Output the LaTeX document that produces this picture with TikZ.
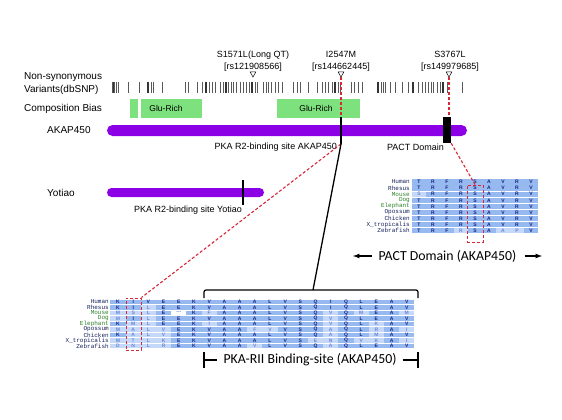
\documentclass[tikz,border=0pt]{standalone}
\usepackage{fontspec}
\setmainfont{Liberation Sans}
\setsansfont{Liberation Sans}
\setmonofont{Liberation Mono}
\newfontfamily\capfont{Carlito}
\usepackage{tikz}

\definecolor{barpurple}{RGB}{140,0,230}
\definecolor{biasgreen}{RGB}{125,225,125}
\definecolor{snpred}{RGB}{215,40,55}
\definecolor{cellblue}{RGB}{150,185,240}
\definecolor{cellpale}{RGB}{198,216,248}
\definecolor{resnavy}{RGB}{25,35,130}
\definecolor{respale}{RGB}{105,135,215}
\definecolor{spgreen}{RGB}{40,130,40}
\definecolor{spnavy}{RGB}{20,30,90}

% one residue of an alignment: letter, x, y, width, height, name
% (lower case = not conserved, . = gap)
\def\resgap{.}
\newcommand\rescell[6]{%
   \def\reslow{#1}\uppercase{\def\resup{#1}}%
   \ifx\reslow\resgap
      \fill[white] (#2-#4/2,#3-#5/2) rectangle ++(#4,#5);
      \node[resfont, text=respale] (#6) at (#2,#3) {-{}-{}-};
   \else\ifx\reslow\resup
      \fill[cellblue] (#2-#4/2,#3-#5/2) rectangle ++(#4,#5);
      \node[resfont, text=resnavy] (#6) at (#2,#3) {\resup};
   \else
      \fill[cellpale] (#2-#4/2,#3-#5/2) rectangle ++(#4,#5);
      \node[resfont, text=respale] (#6) at (#2,#3) {\resup};
   \fi\fi}

\begin{document}
\begin{tikzpicture}[x=1pt, y=-1pt,
   lbl/.style={font=\fontsize{10}{13}\selectfont, inner sep=0},
   small/.style={font=\fontsize{9}{12}\selectfont, inner sep=0, align=center},
   snptick/.style={black!65, line width=0.7},
   biasbox/.style={fill=biasgreen, minimum height=19, inner sep=0},
   glu/.style={font=\fontsize{8.5}{10}\selectfont, inner sep=0},
   redline/.style={snpred, line width=1.1, dash pattern=on 3pt off 2pt},
   redbox/.style={draw=snpred, line width=1, dash pattern=on 3pt off 2pt, inner sep=0},
   resfont/.style={font=\fontsize{5}{5}\sffamily\bfseries, inner sep=0},
   spfont/.style={font=\fontsize{6}{6}\ttfamily, inner sep=0, anchor=east},
   domcap/.style={font=\fontsize{13.8}{15}\capfont, inner sep=0}
]
   \useasboundingbox (0,0) rectangle (562,420);

   % Row labels
   \node[lbl, anchor=west, align=left] (varlbl) at (24,84) {Non-synonymous\\Variants(dbSNP)};
   \node[lbl, anchor=west] (biaslbl) at (24,109) {Composition Bias};
   \node[lbl, anchor=west] (akaplbl) at (47,130.5) {AKAP450};
   \node[lbl, anchor=west] (yotlbl) at (47,193) {Yotiao};

   % Variants
   \foreach \x in {112.7,114.7,116.7,118.7,128,139,148,151,153,162,185,188,197,
                   202,206,209,212,215,220,223,226,228,231,233,236,240,243,246,
                   249,252,255,257,263,266,268,271,275,278,282,293,297,300,308,
                   317,322,325,328,332,335,338,340,351,354,358,362,378,381,383,
                   385,390,395,402,408,413,418,422,425,428,431,433,437,440,443,
                   447,462}
      \draw[snptick] (\x,82) -- (\x,93);
   \foreach \x in {113.5,148,206,226,252,335,378,413,443}
      \draw[black!80, line width=1.1] (\x,82) -- (\x,93);

   % Named variants
   \node[small] (snpA) at (253,61) {S1571L(Long QT)\\{}[rs121908566]};
   \node[small] (snpB) at (341,61) {I2547M\\{}[rs144662445]};
   \node[small] (snpC) at (450,61) {S3767L\\{}[rs149979685]};
   \coordinate (tipA) at (253,77);
   \coordinate (tipB) at (341,77);
   \coordinate (tipC) at (449,77);
   \foreach \t in {tipA,tipB,tipC}
      \draw[line width=0.5] (\t) -- ++(-2.8,-5) -- ++(5.6,0) -- cycle;

   % Composition bias
   \node[biasbox, minimum width=8] (biasA) at (134,108.5) {};
   \node[biasbox, minimum width=61] (biasB) at (171.5,108.5) {};
   \node[biasbox, minimum width=83] (biasC) at (318.5,108.5) {};
   \node[glu] (gluB) at (166,108.5) {Glu-Rich};
   \node[glu] (gluC) at (316,108.5) {Glu-Rich};

   % Proteins
   \node[fill=barpurple, rounded corners=5.5, minimum width=360, minimum height=11, inner sep=0] (akap) at (287,130.5) {};
   \node[fill=barpurple, rounded corners=4.5, minimum width=157, minimum height=9, inner sep=0] (yotiao) at (185.5,192.5) {};
   \node[fill=black, minimum width=8, minimum height=26, inner sep=0] (pact) at (447,130) {};
   \coordinate (bindT) at (341,117);
   \coordinate (bindB) at (341,144);
   \draw[line width=1.2] (bindT) -- (bindB);
   \coordinate (yotT) at (243,180);
   \coordinate (yotB) at (243,205);
   \draw[line width=1.6] (yotT) -- (yotB);
   \node[small, anchor=east] (akapsite) at (337,147) {PKA R2-binding site AKAP450};
   \node[small] (pactlbl) at (415.5,147) {PACT Domain};
   \node[small, anchor=east] (yotsite) at (242,210) {PKA R2-binding site Yotiao};

   % PACT alignment
   \foreach \sp/\spc/\seq [count=\r from 0] in {
      Human/spnavy/{T,R,F,R,S,A,V,R,V},
      Rhesus/spnavy/{T,R,F,R,S,A,V,R,V},
      Mouse/spgreen/{s,R,F,R,S,A,V,R,V},
      Dog/spgreen/{T,R,F,R,S,A,V,R,V},
      Elephant/spgreen/{T,R,F,R,S,A,V,R,V},
      Opossum/spnavy/{T,R,F,R,S,A,V,R,V},
      Chicken/spnavy/{T,R,F,R,S,A,V,R,V},
      X\_tropicalis/spnavy/{T,R,F,R,S,A,V,R,V},
      Zebrafish/spnavy/{T,R,F,r,S,A,a,p,V}} {
      \pgfmathsetmacro\ry{182+6.1*\r}
      \node[spfont, text=\spc] (ps\r) at (410,\ry) {\sp};
      \foreach \a [count=\c from 0] in \seq {
         \pgfmathsetmacro\rx{419+14*\c}
         \expandafter\rescell\expandafter{\a}{\rx}{\ry}{14}{5.3}{pr\r-\c}
      }
   }
   \node[redbox, minimum width=16, minimum height=57] (boxS) at (475,213.5) {};

   % PKA-RII alignment
   \foreach \sp/\spc/\seq [count=\r from 0] in {
      Human/spnavy/{K,I,V,E,E,K,V,A,A,A,L,V,S,Q,I,Q,L,E,A,V},
      Rhesus/spnavy/{K,I,l,E,E,K,V,A,A,A,L,V,S,Q,I,Q,L,E,A,V},
      Mouse/spgreen/{m,s,l,E,.,K,f,A,A,A,L,V,S,Q,v,Q,m,E,A,m},
      Dog/spgreen/{m,I,l,E,E,K,V,A,A,A,L,V,S,Q,v,Q,L,E,A,V},
      Elephant/spgreen/{K,m,l,E,E,K,i,A,A,A,L,V,S,Q,v,Q,L,k,A,V},
      Opossum/spnavy/{m,a,l,v,E,K,V,A,A,f,v,V,S,Q,a,Q,L,r,A,i},
      Chicken/spnavy/{K,a,l,v,E,K,V,A,A,A,L,V,S,Q,a,Q,L,m,A,V},
      X\_tropicalis/spnavy/{m,t,l,k,E,K,V,A,A,A,L,V,S,e,n,Q,v,k,A,i},
      Zebrafish/spnavy/{d,n,l,r,E,K,V,A,A,v,L,V,S,Q,a,Q,L,E,A,V}} {
      \pgfmathsetmacro\ry{302+5.5*\r}
      \node[spfont, text=\spc] (bs\r) at (109,\ry) {\sp};
      \foreach \a [count=\c from 0] in \seq {
         \pgfmathsetmacro\rx{118+15.2*\c}
         \expandafter\rescell\expandafter{\a}{\rx}{\ry}{15.2}{4.8}{br\r-\c}
      }
   }
   \node[redbox, minimum width=15, minimum height=52] (boxI) at (133.5,324) {};

   % Red links
   \draw[redline] (tipB) -- (bindT);
   \draw[redline] (tipC) -- (pact.north -| tipC);
   \draw[redline] (bindB) -- (boxI.north east);
   \draw[redline] (pact.south east) -- (boxS.north);

   % Bracket
   \coordinate (brkL) at (204,298);
   \coordinate (brkR) at (418,298);
   \coordinate (brkM) at (313,290);
   \draw[line width=1.2, rounded corners=2] (brkL) -- (brkL |- brkM) -- (brkR |- brkM) -- (brkR);
   \draw[line width=1.3] (bindB) -- (brkM);

   % Domain captions
   \node[domcap] (pactcap) at (447.5,256) {PACT Domain (AKAP450)};
   \coordinate (pactL) at (353,256);
   \coordinate (pactR) at (542,256);
   \draw[-latex, line width=1.2] ([xshift=-6]pactcap.west) -- (pactL);
   \draw[-latex, line width=1.2] ([xshift=8]pactcap.east) -- (pactR);

   \node[domcap] (riicap) at (310,360) {PKA-RII Binding-site (AKAP450)};
   \coordinate (riiL) at (204,360);
   \coordinate (riiR) at (418,360);
   \draw[line width=1.1] (riiL) -- ([xshift=-6]riicap.west);
   \draw[line width=1.1] ([xshift=6]riicap.east) -- (riiR);
   \draw[line width=1.1] ([yshift=-8]riiL) -- ([yshift=8]riiL);
   \draw[line width=1.1] ([yshift=-8]riiR) -- ([yshift=8]riiR);
\end{tikzpicture}
\end{document}
